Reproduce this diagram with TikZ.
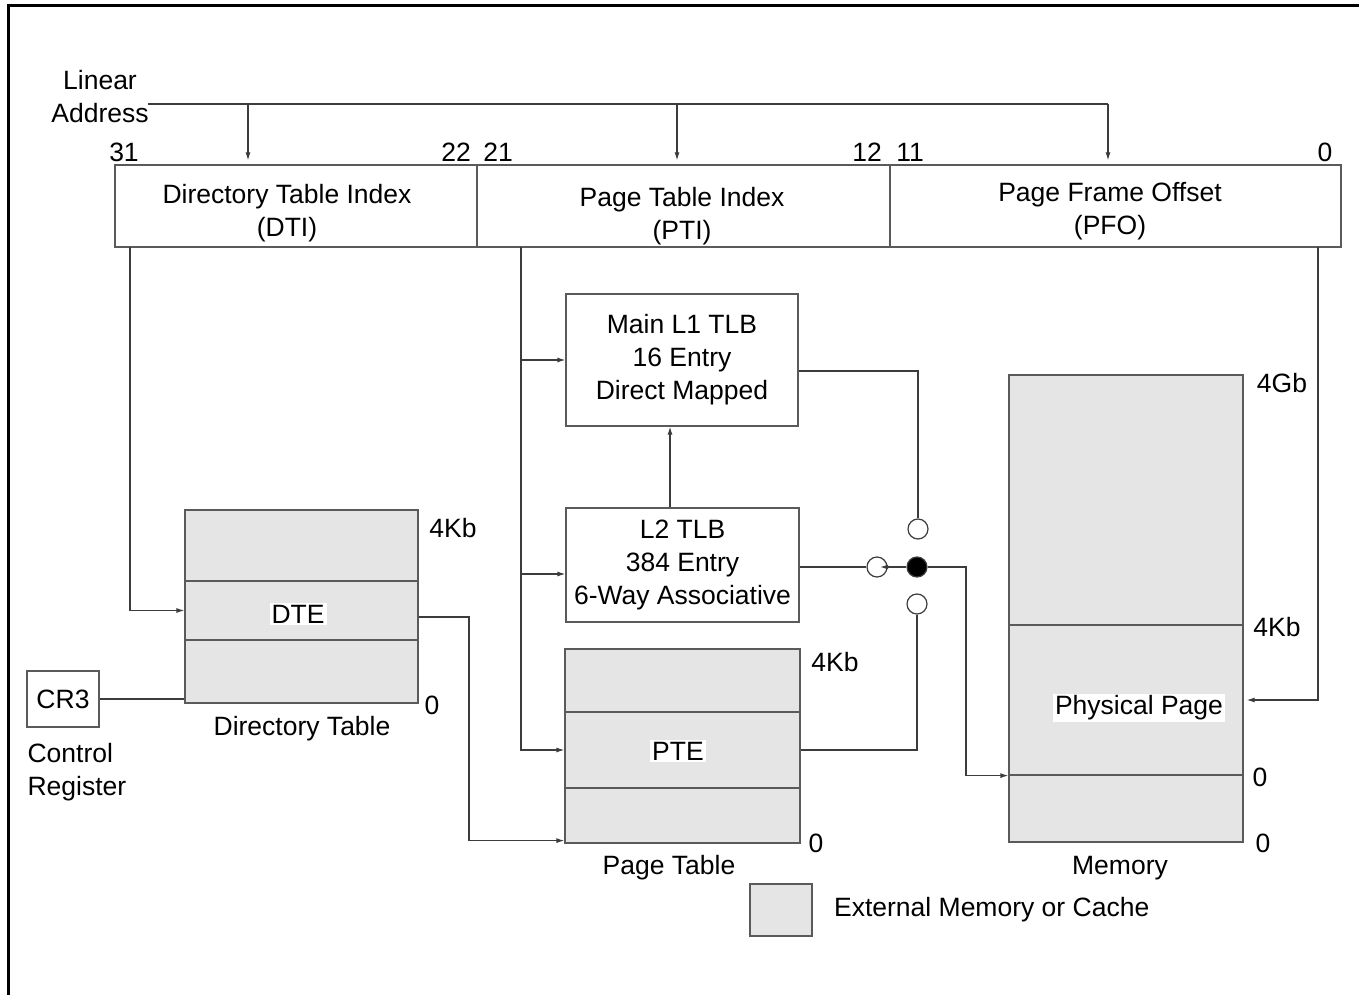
\documentclass[tikz,border=0pt]{standalone}
\usepackage{fontspec}
\setmainfont{Liberation Sans}
\usetikzlibrary{arrows.meta, positioning}
\definecolor{memgray}{RGB}{229, 229, 229}
\definecolor{wiredark}{RGB}{60, 60, 60}
\definecolor{boxedge}{RGB}{90, 90, 90}

\begin{document}
\begin{tikzpicture}[
    x=1pt, y=-1pt,
    every node/.style={font=\fontsize{26.5}{33}\selectfont, text=black},
    field/.style={rectangle, draw=boxedge, fill=white, line width=1.2pt, inner sep=0pt, align=center},
    memblock/.style={rectangle, draw=boxedge, fill=memgray, line width=1.2pt, inner sep=0pt},
    tag/.style={fill=white, inner sep=2pt},
    swdot/.style={circle, draw=wiredark, fill=white, line width=1.2pt, minimum size=20pt, inner sep=0pt},
    wire/.style={line width=1.2pt, draw=wiredark},
    arrow/.style={-{Latex[length=8pt, width=5pt]}, line width=1.2pt, draw=wiredark},
]
\useasboundingbox (0,0) rectangle (1359,995);

% Frame
\draw[line width=3pt] (8,1000) -- (8,6) -- (1365,6);

% Linear address register
\node[align=center] (linaddr) at (100,97) {Linear\\Address};
\node[field, minimum width=362pt, minimum height=82pt] (dti) at (296,206) {};
\node[field, minimum width=413pt, minimum height=82pt] (pti) at (683.5,206) {};
\node[field, minimum width=451pt, minimum height=82pt] (pfo) at (1115.5,206) {};
\node[align=center] (dtitxt) at (287,213) {Directory Table Index\\(DTI)};
\node[align=center] (ptitxt) at (682,216) {Page Table Index\\(PTI)};
\node[align=center] (pfotxt) at (1110,211) {Page Frame Offset\\(PFO)};
\foreach \bx/\bt in {124/31, 456/22, 498/21, 867/12, 910/11, 1325/0}
    \node (bit\bt) at (\bx,152) {\bt};

% Address bus
\coordinate (bus0) at (148,104);
\coordinate (bus1) at (248,104);
\coordinate (bus2) at (677,104);
\coordinate (bus3) at (1108,104);
\draw[wire] (bus0) -- (bus3);
\foreach \c in {bus1, bus2, bus3}
    \draw[arrow, shorten >=4pt] (\c) -- (\c |- dti.north);

% Control register
\node[field, minimum width=72pt, minimum height=56pt] (cr3) at (63,699) {CR3};
\node[align=left, anchor=west] (cr3name) at (24,772) {Control\\Register};

% Directory table
\node[memblock, minimum width=233pt, minimum height=193pt] (dirtab) at (301.5,606.5) {};
\node[memblock, minimum width=233pt, minimum height=59pt] (dte) at (301.5,610.5) {};
\node[tag] (dtetxt) at (298,614) {DTE};
\node (dirtop) at (453,528) {4Kb};
\node (dirzero) at (432,705) {0};
\node (dirname) at (302,729) {Directory Table};

% TLBs
\node[field, minimum width=232pt, minimum height=132pt] (l1tlb) at (682,360) {Main L1 TLB\\16 Entry\\Direct Mapped};
\node[field, minimum width=233pt, minimum height=114pt] (l2tlb) at (682.5,565) {L2 TLB\\384 Entry\\6-Way Associative};

% Page table
\node[memblock, minimum width=235pt, minimum height=194pt] (pagetab) at (682.5,746) {};
\node[memblock, minimum width=235pt, minimum height=76pt] (pte) at (682.5,750) {};
\node[tag] (ptetxt) at (678,751) {PTE};
\node (pttop) at (835,662) {4Kb};
\node (ptzero) at (816,843) {0};
\node (ptname) at (669,868) {Page Table};

% Memory
\node[memblock, minimum width=234pt, minimum height=467pt] (memory) at (1126,608.5) {};
\node[memblock, minimum width=234pt, minimum height=150pt] (physpage) at (1126,700) {};
\node[tag] (phystxt) at (1139,708) {Physical Page};
\node (memtop) at (1282,383) {4Gb};
\node (mem4k) at (1277,627) {4Kb};
\node (physzero) at (1260,777) {0};
\node (memzero) at (1263,843) {0};
\node (memname) at (1120,868) {Memory};

% Hit / miss selector
\node[swdot] (swtop) at (918,529) {};
\node[swdot, fill=black] (swmid) at (917,567) {};
\node[swdot] (swbot) at (917,604) {};
\node[swdot] (swleft) at (877,567) {};

% Legend
\node[memblock, minimum width=62pt, minimum height=52pt] (legbox) at (781,910) {};
\node[right=18pt of legbox] (legtxt) {External Memory or Cache};

% Directory walk
\coordinate (dtitap) at (130,247);
\coordinate (dtejog) at (469,617);
\draw[arrow] (dtitap) |- (dte.west);
\draw[wire] (cr3.east) -- (cr3.east -| dirtab.west);
\draw[arrow] (dte.east |- dtejog) -- (dtejog) |- ([yshift=3pt]pagetab.south west);

% Page table index
\coordinate (ptitap) at (521,247);
\coordinate (l2in) at ([yshift=-9pt]l2tlb.west);
\draw[arrow] (ptitap) |- (pte.west);
\draw[arrow] (ptitap |- l1tlb.west) -- (l1tlb.west);
\draw[arrow] (ptitap |- l2in) -- (l2in);

% TLB paths
\coordinate (tlbup) at (670,0);
\draw[arrow] (tlbup |- l2tlb.north) -- (tlbup |- l1tlb.south);
\draw[wire] ([yshift=-11pt]l1tlb.east) -| (swtop.north);
\draw[wire] (l2tlb.east |- swleft) -- (swleft.west);
\draw[arrow] (swmid.west) -- ([xshift=3pt]swleft.center);
\draw[wire] (swbot.south) |- (pte.east);
\coordinate (memjog) at (966,567);
\draw[arrow] (swmid.east) -- (memjog) |- (physpage.south west);

% Page frame offset
\coordinate (pfotap) at (1318,247);
\draw[arrow, shorten >=3pt] (pfotap) |- (physpage.east);

\end{tikzpicture}
\end{document}
